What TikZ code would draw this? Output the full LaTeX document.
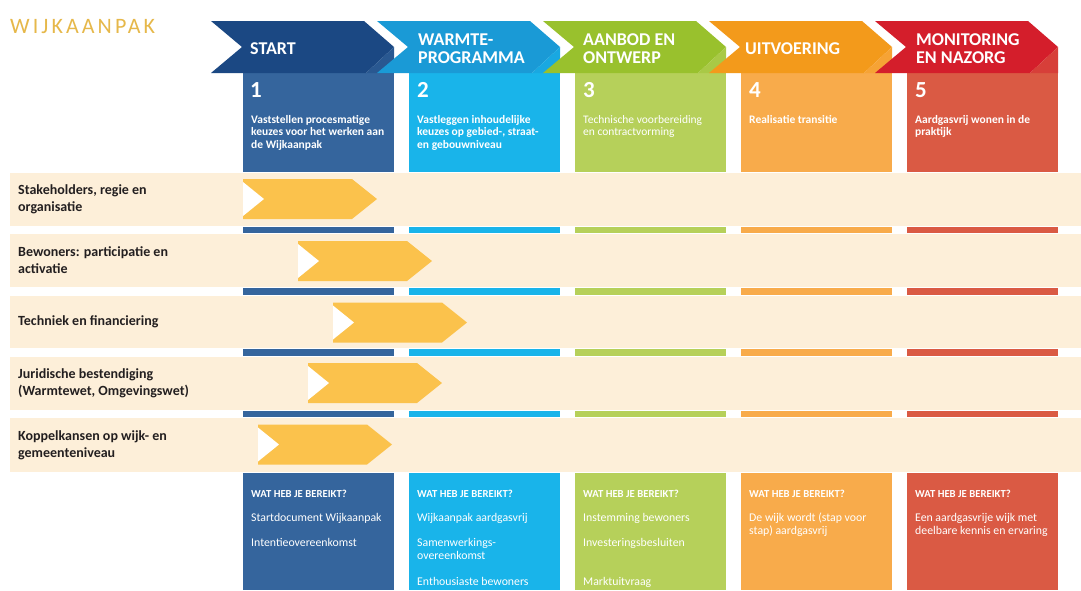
\documentclass[tikz,border=0pt]{standalone}
\usepackage{fontspec}
\setmainfont{Carlito}
\newfontfamily\titlefont[LetterSpace=14]{Carlito}
\definecolor{hA}{HTML}{1B4883}
\definecolor{bA}{HTML}{35659D}
\definecolor{hB}{HTML}{1A9AD6}
\definecolor{bB}{HTML}{19B4EA}
\definecolor{hC}{HTML}{99C12D}
\definecolor{bC}{HTML}{B6D05A}
\definecolor{hD}{HTML}{F39A1B}
\definecolor{bD}{HTML}{F8AB4B}
\definecolor{hE}{HTML}{D41E2B}
\definecolor{bE}{HTML}{DA5A44}
\definecolor{bandc}{HTML}{FDEFD9}
\definecolor{yarrow}{HTML}{FBC24C}
\definecolor{goldc}{HTML}{E6B84A}
\definecolor{labelc}{HTML}{231F20}
\tikzset{
  band/.style={fill=bandc},
  rowlabel/.style={anchor=west,align=left,text=labelc,font=\fontsize{14}{17}\selectfont\bfseries,inner sep=0pt},
  headtxt/.style={anchor=base west,inner sep=0pt,text=white,font=\fontsize{18}{18}\selectfont\bfseries},
  numtxt/.style={anchor=base west,inner sep=0pt,text=white,font=\fontsize{23}{23}\selectfont\bfseries},
  desctxt/.style={anchor=base west,inner sep=0pt,text=white,align=left,font=\fontsize{11.5}{12.5}\selectfont\bfseries},
  desclight/.style={desctxt,font=\fontsize{11.5}{12.5}\selectfont},
  whathdr/.style={anchor=base west,inner sep=0pt,text=white,font=\fontsize{10.7}{12}\selectfont\bfseries},
  item/.style={anchor=base west,inner sep=0pt,text=white,align=left,font=\fontsize{11.8}{13}\selectfont},
}
\begin{document}
\begin{tikzpicture}[x=1pt,y=-1pt]
\useasboundingbox (0,0) rectangle (1081,590);
\fill[white] (0,0) rectangle (1081,590);
% title
\node[anchor=base west,inner sep=0pt,text=goldc,font=\titlefont\fontsize{22}{22}\selectfont] (title) at (10,33) {WIJKAANPAK};
% bands
\foreach \t/\b in {173/226,234/287,296/348,357/410,418/472}
  \fill[band] (10,\t) rectangle (1081,\b);
% columns
\foreach \i/\h/\c in {0/hA/bA,1/hB/bB,2/hC/bC,3/hD/bD,4/hE/bE} {
  \pgfmathsetmacro\L{243+166*\i}
  \pgfmathsetmacro\R{\L+151}
  \fill[\c] (\L,73) rectangle (\R,172);
  \fill[\h] (\L-32,21) -- (\R-30,21) -- (\R,47) -- (\R-28,73) -- (\L-32,73) -- (\L-1,47) -- cycle;
  \fill[\h!45!\c] (\R-28,73) -- (\R,47) -- (\R,73) -- cycle;
  \foreach \t/\b in {227/233,288/295,349/356,411/417}
    \fill[\c] (\L,\t) rectangle (\R,\b);
  \fill[\c] (\L,473) rectangle (\R,590);
}
% yellow arrows
\foreach \x/\cy [count=\k] in {243/199,298/261,333/322.5,308/383,258/444.5} {
  \fill[yarrow] (\x,\cy-20) -- (\x+109,\cy-20) -- (\x+134,\cy) -- (\x+109,\cy+20) -- (\x,\cy+20) -- cycle;
  \fill[white] (\x,\cy-17) -- (\x+21,\cy) -- (\x,\cy+17) -- cycle;
}
% row labels
\node[rowlabel] (r1) at (18,199.5) {Stakeholders, regie en\\organisatie};
\node[rowlabel] (r2) at (18,260.5) {Bewoners: participatie en\\activatie};
\node[rowlabel] (r3) at (18,322) {Techniek en financiering};
\node[rowlabel] (r4) at (18,383.5) {Juridische bestendiging\\(Warmtewet, Omgevingswet)};
\node[rowlabel] (r5) at (18,445) {Koppelkansen op wijk- en\\gemeenteniveau};
% header titles
\node[headtxt] (h1) at (250,54) {START};
\node[headtxt] (h2a) at (418,45) {WARMTE-};
\node[headtxt] (h2b) at (418,63) {PROGRAMMA};
\node[headtxt] (h3a) at (583,45) {AANBOD EN};
\node[headtxt] (h3b) at (583,63) {ONTWERP};
\node[headtxt] (h4) at (745,54) {UITVOERING};
\node[headtxt] (h5a) at (916,45) {MONITORING};
\node[headtxt] (h5b) at (916,63) {EN NAZORG};
% numbers
\node[numtxt] (n1) at (250,97) {1};
\node[numtxt] (n2) at (417,97) {2};
\node[numtxt] (n3) at (583,97) {3};
\node[numtxt] (n4) at (749,97) {4};
\node[numtxt] (n5) at (915,97) {5};
% descriptions (base anchor = last line's baseline)
\node[desctxt] (d1) at (251,148) {Vaststellen procesmatige\\keuzes voor het werken aan\\de Wijkaanpak};
\node[desctxt] (d2) at (417,148) {Vastleggen inhoudelijke\\keuzes op gebied-, straat-\\en gebouwniveau};
\node[desclight] (d3) at (583,135.5) {Technische voorbereiding\\en contractvorming};
\node[desctxt] (d4) at (749,123) {Realisatie transitie};
\node[desctxt] (d5) at (915,135.5) {Aardgasvrij wonen in de\\praktijk};
% bottom boxes
\foreach \i in {0,...,4} {
  \pgfmathsetmacro\L{251+166*\i}
  \node[whathdr] (w\i) at (\L,497) {WAT HEB JE BEREIKT?};
}
\node[item] (a1) at (251,521) {Startdocument Wijkaanpak};
\node[item] (a2) at (251,546) {Intentieovereenkomst};
\node[item] (b1) at (417,521) {Wijkaanpak aardgasvrij};
\node[item] (b2) at (417,559) {Samenwerkings-\\overeenkomst};
\node[item] (b3) at (417,585) {Enthousiaste bewoners};
\node[item] (c1) at (583,521) {Instemming bewoners};
\node[item] (c2) at (583,546) {Investeringsbesluiten};
\node[item] (c3) at (583,585) {Marktuitvraag};
\node[item] (e1) at (749,534) {De wijk wordt (stap voor\\stap) aardgasvrij};
\node[item] (f1) at (915,534) {Een aardgasvrije wijk met\\deelbare kennis en ervaring};
\end{tikzpicture}
\end{document}
